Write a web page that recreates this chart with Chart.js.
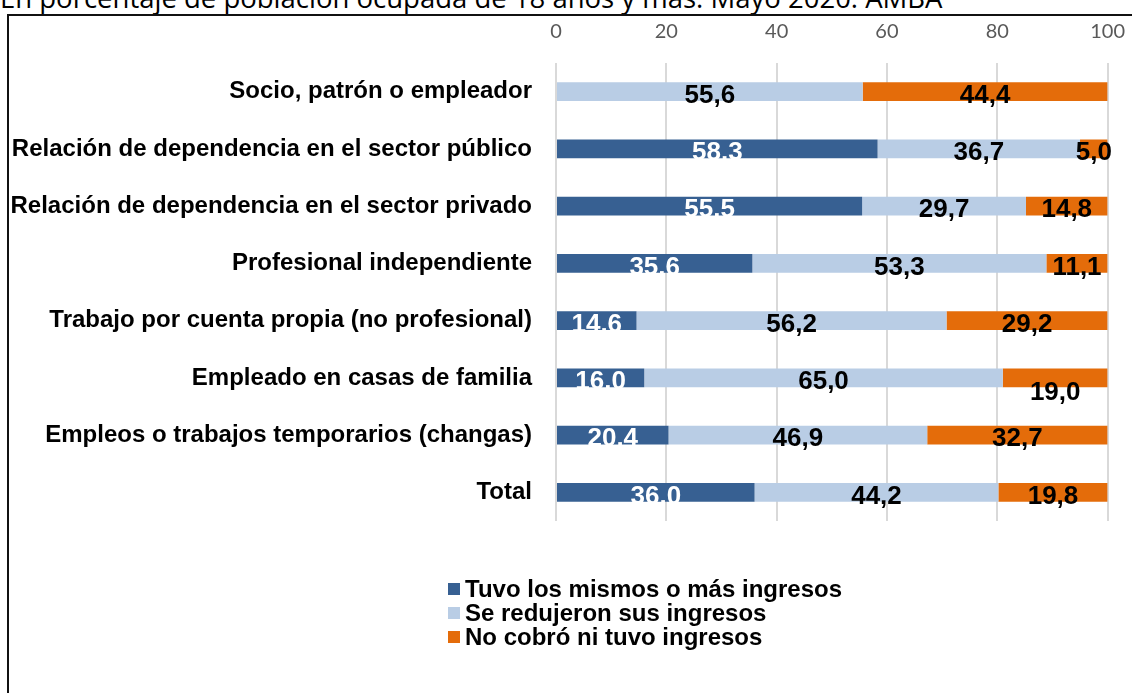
<!DOCTYPE html>
<html>
<head>
<meta charset="utf-8">
<script src="https://cdn.jsdelivr.net/npm/chart.js@4"></script>
<style>
  body { margin: 0; background: #fff; overflow: hidden; }
  #wrap { position: relative; width: 1132px; height: 693px; overflow: hidden; }
  #frame { position: absolute; left: 7px; top: 14px; width: 2000px; height: 2000px;
           border-left: 2px solid #111; border-top: 2px solid #111; }
  #title { position: absolute; left: 0; top: -17px; font-family: "Open Sans", sans-serif;
           font-size: 27.5px; line-height: 30px; color: #000; white-space: nowrap; }
  #box { position: absolute; left: 0; top: 0; width: 1144px; height: 693px; }
</style>
</head>
<body>
<div id="wrap">
  <div id="title">En porcentaje de población ocupada de 18 años y más. Mayo 2020. AMBA</div>
  <div id="frame"></div>
  <div id="box"><canvas id="chart"></canvas></div>
</div>
<script>
// Categories and series
const categories = [
  'Socio, patrón o empleador',
  'Relación de dependencia en el sector público',
  'Relación de dependencia en el sector privado',
  'Profesional independiente',
  'Trabajo por cuenta propia (no profesional)',
  'Empleado en casas de familia',
  'Empleos o trabajos temporarios (changas)',
  'Total'
];
const seriesNames = [
  'Tuvo los mismos o más ingresos',
  'Se redujeron sus ingresos',
  'No cobró ni tuvo ingresos'
];
const sameOrMore = [null, 58.3, 55.5, 35.6, 14.6, 16.0, 20.4, 36.0];
const reduced = [55.6, 36.7, 29.7, 53.3, 56.2, 65.0, 46.9, 44.2];
const noIncome = [44.4, 5.0, 14.8, 11.1, 29.2, 19.0, 32.7, 19.8];
const xTicks = [0, 20, 40, 60, 80, 100];

const colors = ['#376092', '#B9CDE5', '#E46C0A'];

// Value labels drawn in the middle of each segment
const valueLabels = {
  id: 'valueLabels',
  afterDatasetsDraw(chart) {
    const ctx = chart.ctx;
    ctx.save();
    ctx.font = 'bold 26px "Liberation Sans", Arial, sans-serif';
    ctx.textAlign = 'center';
    ctx.textBaseline = 'middle';
    chart.data.datasets.forEach((ds, di) => {
      const meta = chart.getDatasetMeta(di);
      meta.data.forEach((bar, i) => {
        const v = ds.data[i];
        if (v === null || v === undefined) return;
        const cx = (bar.x + bar.base) / 2;
        let cy = bar.y + 4;
        if (di === 2 && i === 5) cy += 11; // the 19,0 label sits below its bar
        let text;
        if (di === 0) {
          ctx.fillStyle = '#fff';
          text = v.toFixed(1);
        } else {
          ctx.fillStyle = '#000';
          text = v.toFixed(1).replace('.', ',');
        }
        ctx.fillText(text, cx, cy);
      });
    });
    ctx.restore();
  }
};

// Legend drawn as a vertical list below the plot
const stackedLegend = {
  id: 'stackedLegend',
  afterDraw(chart) {
    const ctx = chart.ctx;
    ctx.save();
    ctx.font = 'bold 24px "Liberation Sans", Arial, sans-serif';
    ctx.textBaseline = 'middle';
    ctx.textAlign = 'left';
    chart.data.datasets.forEach((ds, di) => {
      const y = 589 + di * 24;
      ctx.fillStyle = ds.backgroundColor;
      ctx.fillRect(448, y - 6, 12, 12);
      ctx.fillStyle = '#000';
      ctx.fillText(ds.label, 465, y + 1);
    });
    ctx.restore();
  }
};

new Chart(document.getElementById('chart'), {
  type: 'bar',
  data: {
    labels: categories,
    datasets: [
      { label: seriesNames[0], data: sameOrMore, backgroundColor: colors[0] },
      { label: seriesNames[1], data: reduced, backgroundColor: colors[1] },
      { label: seriesNames[2], data: noIncome, backgroundColor: colors[2] }
    ]
  },
  options: {
    indexAxis: 'y',
    responsive: true,
    maintainAspectRatio: false,
    animation: false,
    layout: { padding: { left: 0, right: 9, top: 0, bottom: 172 } },
    datasets: { bar: { categoryPercentage: 1, barPercentage: 0.33 } },
    plugins: {
      legend: { display: false },
      tooltip: { enabled: false }
    },
    scales: {
      x: {
        position: 'top',
        stacked: true,
        min: 0,
        max: 100,
        afterFit(scale) { scale.height = 63; },
        afterBuildTicks(scale) { scale.ticks = xTicks.map(v => ({ value: v })); },
        grid: { color: '#d9d9d9', lineWidth: 2, drawTicks: false },
        border: { display: false },
        ticks: {
          padding: 19,
          color: '#595959',
          font: { family: 'Lato, "Open Sans", sans-serif', size: 20 }
        }
      },
      y: {
        stacked: true,
        afterFit(scale) { scale.width = 556; },
        grid: { display: false, drawTicks: false },
        border: { display: false },
        ticks: {
          padding: 24,
          color: '#000',
          font: { family: '"Liberation Sans", Arial, sans-serif', size: 24, weight: 'bold' }
        }
      }
    }
  },
  plugins: [valueLabels, stackedLegend]
});
</script>
</body>
</html>
